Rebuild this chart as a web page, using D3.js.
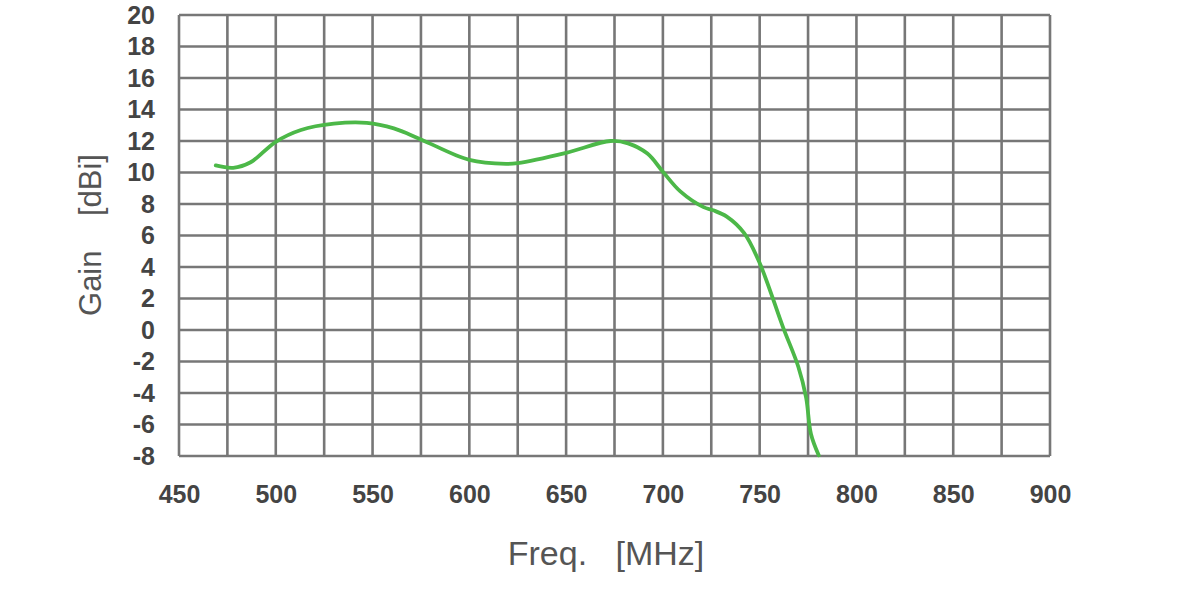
<!DOCTYPE html>
<html>
<head>
<meta charset="utf-8">
<script src="https://cdn.jsdelivr.net/npm/d3@7"></script>
<style>
  html, body { margin: 0; padding: 0; background: #fff; }
  svg { display: block; }
  .tick text { font-family: "Liberation Sans", Arial, sans-serif; font-weight: bold; font-size: 25px; fill: #444; }
  .title { font-family: "Liberation Sans", Arial, sans-serif; fill: #555; white-space: pre; }
</style>
</head>
<body>
<svg id="chart" width="1200" height="593"></svg>
<script>
// readings
const freq = [469, 478, 487, 500, 513, 530, 547, 561, 575, 600, 619, 625, 650, 673, 682, 692, 700, 709, 721, 726, 733, 742, 750, 762, 770, 774, 776.5, 780.5];
const gain = [10.45, 10.3, 10.65, 11.95, 12.7, 13.1, 13.15, 12.8, 12.1, 10.8, 10.55, 10.6, 11.25, 12.0, 11.85, 11.2, 10.05, 8.8, 7.8, 7.6, 7.2, 6.15, 4.25, 0.2, -2.35, -4.3, -6.6, -7.95];

const xTicks = [450, 500, 550, 600, 650, 700, 750, 800, 850, 900];
const yTicks = [20, 18, 16, 14, 12, 10, 8, 6, 4, 2, 0, -2, -4, -6, -8];
const xGrid = d3.range(450, 901, 25);

const svg = d3.select('#chart');
const L = 179, R = 1050, T = 15, B = 456;

const x = d3.scaleLinear().domain([450, 900]).range([L, R]);
const y = d3.scaleLinear().domain([-8, 20]).range([B, T]);

const grid = svg.append('g').attr('stroke', '#777').attr('stroke-width', 2.6);
grid.selectAll('line.v').data(xGrid).enter().append('line')
  .attr('x1', d => x(d)).attr('x2', d => x(d))
  .attr('y1', T).attr('y2', B);
grid.selectAll('line.h').data(yTicks).enter().append('line')
  .attr('x1', L).attr('x2', R)
  .attr('y1', d => y(d)).attr('y2', d => y(d));

// tick labels (plain hyphen for negatives, like the source)
const yAxis = svg.append('g').attr('transform', 'translate(' + L + ',0)')
  .call(d3.axisLeft(y).tickValues(yTicks).tickSize(0).tickPadding(24).tickFormat(d => String(d)));
yAxis.select('.domain').remove();

const xAxis = svg.append('g').attr('transform', 'translate(0,' + B + ')')
  .call(d3.axisBottom(x).tickValues(xTicks).tickSize(0).tickPadding(29).tickFormat(d => String(d)));
xAxis.select('.domain').remove();

// curve
const pts = freq.map((f, i) => [f, gain[i]]);
const line = d3.line().x(d => x(d[0])).y(d => y(d[1])).curve(d3.curveCatmullRom.alpha(0.5));
svg.append('path').datum(pts)
  .attr('d', line)
  .attr('fill', 'none')
  .attr('stroke', '#4cb848')
  .attr('stroke-width', 3.8)
  .attr('stroke-linecap', 'round');

// titles
svg.append('text').attr('class', 'title')
  .attr('x', 606).attr('y', 565)
  .attr('text-anchor', 'middle')
  .style('font-size', '34px')
  .text('Freq.   [MHz]');

svg.append('text').attr('class', 'title')
  .attr('transform', 'translate(101,235) rotate(-90)')
  .attr('text-anchor', 'middle')
  .style('font-size', '31px')
  .text('Gain    [dBi]');
</script>
</body>
</html>
